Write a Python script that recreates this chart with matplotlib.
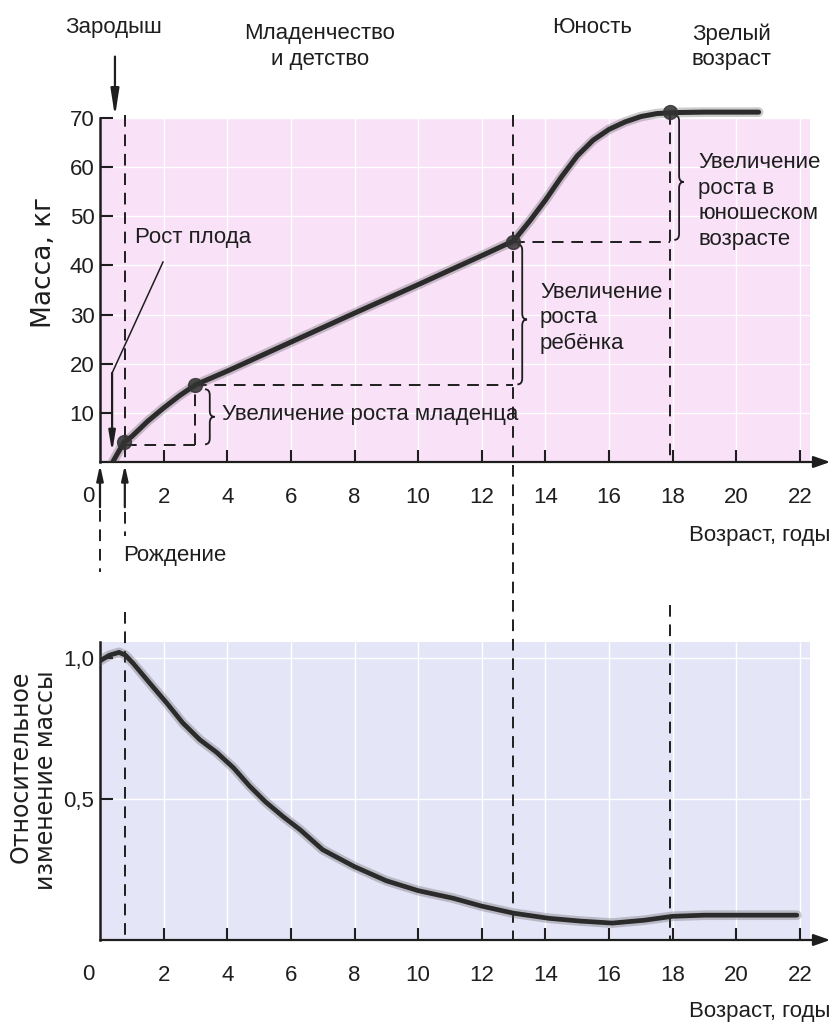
import numpy as np
import matplotlib
matplotlib.use('Agg')
import matplotlib.pyplot as plt
from matplotlib import font_manager
from matplotlib.path import Path
from matplotlib.patches import PathPatch, Rectangle

# --- data ---
mass_age = [0.4, 0.75, 1.0, 1.5, 2.0, 2.5, 3.0, 4.0, 6.0, 8.0, 10.0, 12.0, 13.0,
            13.5, 14.0, 14.5, 15.0, 15.5, 16.0, 16.5, 17.0, 17.5, 18.0, 19.0, 20.0, 20.7]
mass_kg = [0.0, 4.0, 5.2, 8.3, 11.0, 13.5, 15.7, 18.5, 24.4, 30.3, 36.1, 42.0, 45.0,
           49.0, 53.3, 58.0, 62.3, 65.5, 67.7, 69.2, 70.3, 70.9, 71.1, 71.2, 71.2, 71.2]
key_age = [0.75, 3.0, 12.98, 17.9]
key_mass = [4.0, 15.7, 44.8, 71.2]
levels = [3.5, 15.6, 44.7]          # dashed horizontal levels

rel_age = [0.0, 0.3, 0.6, 0.8, 1.05, 1.57, 2.1, 2.6, 3.14, 3.67, 4.2, 4.7, 5.2, 5.76, 6.3,
           7.0, 8.0, 9.0, 10.0, 11.1, 12.0, 13.0, 14.1, 15.1, 16.1, 17.1, 18.0, 19.0, 20.0, 21.0, 21.9]
rel_val = [0.99, 1.01, 1.02, 1.01, 0.98, 0.91, 0.84, 0.77, 0.71, 0.665, 0.61, 0.546, 0.49, 0.437, 0.39,
           0.32, 0.26, 0.21, 0.175, 0.148, 0.12, 0.095, 0.077, 0.067, 0.06, 0.07, 0.084, 0.088, 0.088, 0.088, 0.088]

age_ticks = [2, 4, 6, 8, 10, 12, 14, 16, 18, 20, 22]
mass_ticks = [10, 20, 30, 40, 50, 60, 70]
rel_ticks = [0.5, 1.0]
rel_labels = ['0,5', '1,0']
stage_ages = [0.78, 12.98, 17.91]   # birth, youth, adulthood

PINK = '#f9e1f8'
BLUE = '#e5e5f8'
INK = '#1e1e1e'

names = set(f.name for f in font_manager.fontManager.ttflist)
if 'Liberation Sans Narrow' in names:
    NARROW, FS = 'Liberation Sans Narrow', 18
else:
    NARROW, FS = 'Liberation Sans', 16
plt.rcParams['font.family'] = [NARROW, 'DejaVu Sans']
DASH = (0, (6, 4))

fig = plt.figure(figsize=(8.33, 10.32), dpi=100)
ax1 = fig.add_axes([100 / 833, 570 / 1032, 733 / 833, 462 / 1032])
ax2 = fig.add_axes([100 / 833, 92 / 1032, 733 / 833, 350 / 1032])
ax1.set_xlim(0, 733 / 31.818)
ax1.set_ylim(0, 462 / 4.914)
ax2.set_xlim(0, 733 / 31.818)
ax2.set_ylim(0, 350 / 282)


def brace(ax, x, y0, y1, ym, w, d):
    verts = [(x, y1), (x + w / 2, y1), (x + w / 2, y1 - d), (x + w / 2, ym + d),
             (x + w / 2, ym), (x + w, ym), (x + w / 2, ym), (x + w / 2, ym - d),
             (x + w / 2, y0 + d), (x + w / 2, y0), (x, y0)]
    codes = [Path.MOVETO, Path.CURVE3, Path.CURVE3, Path.LINETO, Path.CURVE3, Path.CURVE3,
             Path.CURVE3, Path.CURVE3, Path.LINETO, Path.CURVE3, Path.CURVE3]
    ax.add_patch(PathPatch(Path(verts, codes), fc='none', ec=INK, lw=1.3, zorder=4))


def arrow(ax, x0, y0, x1, y1, hl=0.8, hw=0.25):
    ax.annotate('', xy=(x1, y1), xytext=(x0, y0), annotation_clip=False,
                arrowprops=dict(arrowstyle='-|>,head_length=%s,head_width=%s' % (hl, hw),
                                lw=1.6, color=INK, shrinkA=0, shrinkB=0))


for ax, y0 in ((ax1, -34 / 4.914), (ax2, -34 / 282)):
    ax.set_facecolor('none')
    for s in ('top', 'right', 'bottom'):
        ax.spines[s].set_visible(False)
    ax.spines['left'].set_linewidth(1.8)
    ax.spines['left'].set_color(INK)
    ax.tick_params(direction='in', length=9, width=1.5, color=INK, labelsize=FS,
                   labelcolor=INK, pad=4)
    ax.tick_params(axis='x', pad=18)
    ax.set_xticks(age_ticks)
    ax.set_xticklabels([str(t) for t in age_ticks])
    arrow(ax, 0, 0, 22.95, 0, hl=1.0, hw=0.35)
    ax.text(-0.38, y0, '0', fontsize=FS, color=INK, ha='center', va='center', clip_on=False)

# ---------------- top panel ----------------
ax1.add_patch(Rectangle((0, 0), 22.3, 70, fc=PINK, ec='none', zorder=0))
ax1.vlines(age_ticks, 0, 70, colors='white', lw=1, zorder=0.5)
ax1.hlines(mass_ticks, 0, 22.3, colors='white', lw=1, zorder=0.5)
ax1.spines['left'].set_bounds(0, 70)
ax1.set_yticks(mass_ticks)
ax1.set_yticklabels([str(t) for t in mass_ticks])

ax1.plot(mass_age, mass_kg, color='#555555', lw=7, alpha=0.3, solid_capstyle='round', zorder=5)
ax1.plot(mass_age, mass_kg, color='#2b2b2b', lw=3.6, solid_capstyle='round', zorder=6)
ax1.plot(key_age, key_mass, 'o', color='#333333', ms=10, alpha=0.85, zorder=7)

# vertical dashed lines
ax1.plot([stage_ages[0]] * 2, [70.6, 0], color=INK, lw=1.4, ls=DASH, zorder=3)
ax1.plot([stage_ages[1]] * 2, [70.6, -28.1], color=INK, lw=1.4, ls=DASH, zorder=3, clip_on=False)
ax1.plot([stage_ages[2]] * 2, [71.0, 0], color=INK, lw=1.4, ls=DASH, zorder=3)
ax1.plot([key_age[1]] * 2, [levels[0], levels[1]], color=INK, lw=1.4, ls=DASH, zorder=3)
# horizontal dashed lines
ax1.plot([stage_ages[0], key_age[1]], [levels[0]] * 2, color=INK, lw=1.4, ls=DASH, zorder=3)
ax1.plot([key_age[1], stage_ages[1]], [levels[1]] * 2, color=INK, lw=1.4, ls=DASH, zorder=3)
ax1.plot([stage_ages[1], stage_ages[2]], [levels[2]] * 2, color=INK, lw=1.4, ls=DASH, zorder=3)
# short dashes under the axis
ax1.plot([0, 0], [-9.8, -22.4], color=INK, lw=1.4, ls=DASH, clip_on=False)
ax1.plot([stage_ages[0]] * 2, [-10.2, -15.0], color=INK, lw=1.4, ls=DASH, clip_on=False)

# arrows
arrow(ax1, 0, -9.2, 0, -0.6, hl=0.9, hw=0.2)
arrow(ax1, stage_ages[0], -9.2, stage_ages[0], -0.6, hl=0.9, hw=0.2)
arrow(ax1, 0.47, 82.5, 0.47, 70.3, hl=1.6, hw=0.25)
ax1.plot([1.98, 0.38], [40.7, 18.1], color=INK, lw=1.1, zorder=4)
arrow(ax1, 0.38, 18.1, 0.38, 2.0, hl=1.2, hw=0.2)

# braces
brace(ax1, 3.3, 3.6, 14.8, 9.2, 0.3, 1.2)
brace(ax1, 13.12, 15.8, 44.3, 29.0, 0.3, 1.2)
brace(ax1, 18.05, 45.2, 70.6, 57.0, 0.3, 1.2)

txt = dict(fontsize=FS, color=INK, clip_on=False)
ax1.text(1.1, 45.6, 'Рост плода', ha='left', va='center', **txt)
ax1.text(3.83, 9.6, 'Увеличение роста младенца', ha='left', va='center', **txt)
ax1.text(13.83, 29.3, 'Увеличение\nроста\nребёнка', ha='left', va='center', linespacing=1.25, **txt)
ax1.text(18.8, 53.1, 'Увеличение\nроста в\nюношеском\nвозрасте', ha='left', va='center',
         linespacing=1.3, **txt)
ax1.text(0.44, 88.5, 'Зародыш', ha='center', va='center', **txt)
ax1.text(6.91, 84.5, 'Младенчество\nи детство', ha='center', va='center', linespacing=1.3, **txt)
ax1.text(15.46, 88.5, 'Юность', ha='center', va='center', **txt)
ax1.text(18.6, 84.5, 'Зрелый\nвозраст', ha='left', va='center', linespacing=1.3, **txt)
ax1.text(22.94, -14.9, 'Возраст, годы', ha='right', va='center', **txt)
ax1.text(0.72, -19.1, 'Рождение', ha='left', va='center', **txt)
ax1.text(-1.76, 40.5, 'Масса, кг', rotation=90, ha='center', va='center', fontsize=19,
         family=['DejaVu Sans'], color=INK)

# ---------------- bottom panel ----------------
ax2.add_patch(Rectangle((0, 0), 22.3, 1.057, fc=BLUE, ec='none', zorder=0))
ax2.vlines(age_ticks, 0, 1.057, colors='white', lw=1, zorder=0.5)
ax2.hlines(rel_ticks, 0, 22.3, colors='white', lw=1, zorder=0.5)
ax2.spines['left'].set_bounds(0, 1.057)
ax2.set_yticks(rel_ticks)
ax2.set_yticklabels(rel_labels)

ax2.plot(rel_age, rel_val, color='#555555', lw=7, alpha=0.3, solid_capstyle='round', zorder=5)
ax2.plot(rel_age, rel_val, color='#2b2b2b', lw=3.4, solid_capstyle='round', zorder=6)

ax2.plot([stage_ages[0]] * 2, [1.163, 0], color=INK, lw=1.4, ls=DASH, zorder=3)
ax2.plot([stage_ages[1]] * 2, [1.206, 0], color=INK, lw=1.4, ls=DASH, zorder=3)
ax2.plot([stage_ages[2]] * 2, [1.188, 0], color=INK, lw=1.4, ls=DASH, zorder=3)

ax2.text(22.94, -0.255, 'Возраст, годы', ha='right', va='center', **txt)
ax2.text(-2.5, 0.957, 'Относительное', rotation=90, ha='center', va='top', fontsize=17,
         family=['DejaVu Sans'], color=INK)
ax2.text(-1.7, 0.957, 'изменение массы', rotation=90, ha='center', va='top', fontsize=17,
         family=['DejaVu Sans'], color=INK)

fig.savefig('out.png', dpi=100)
